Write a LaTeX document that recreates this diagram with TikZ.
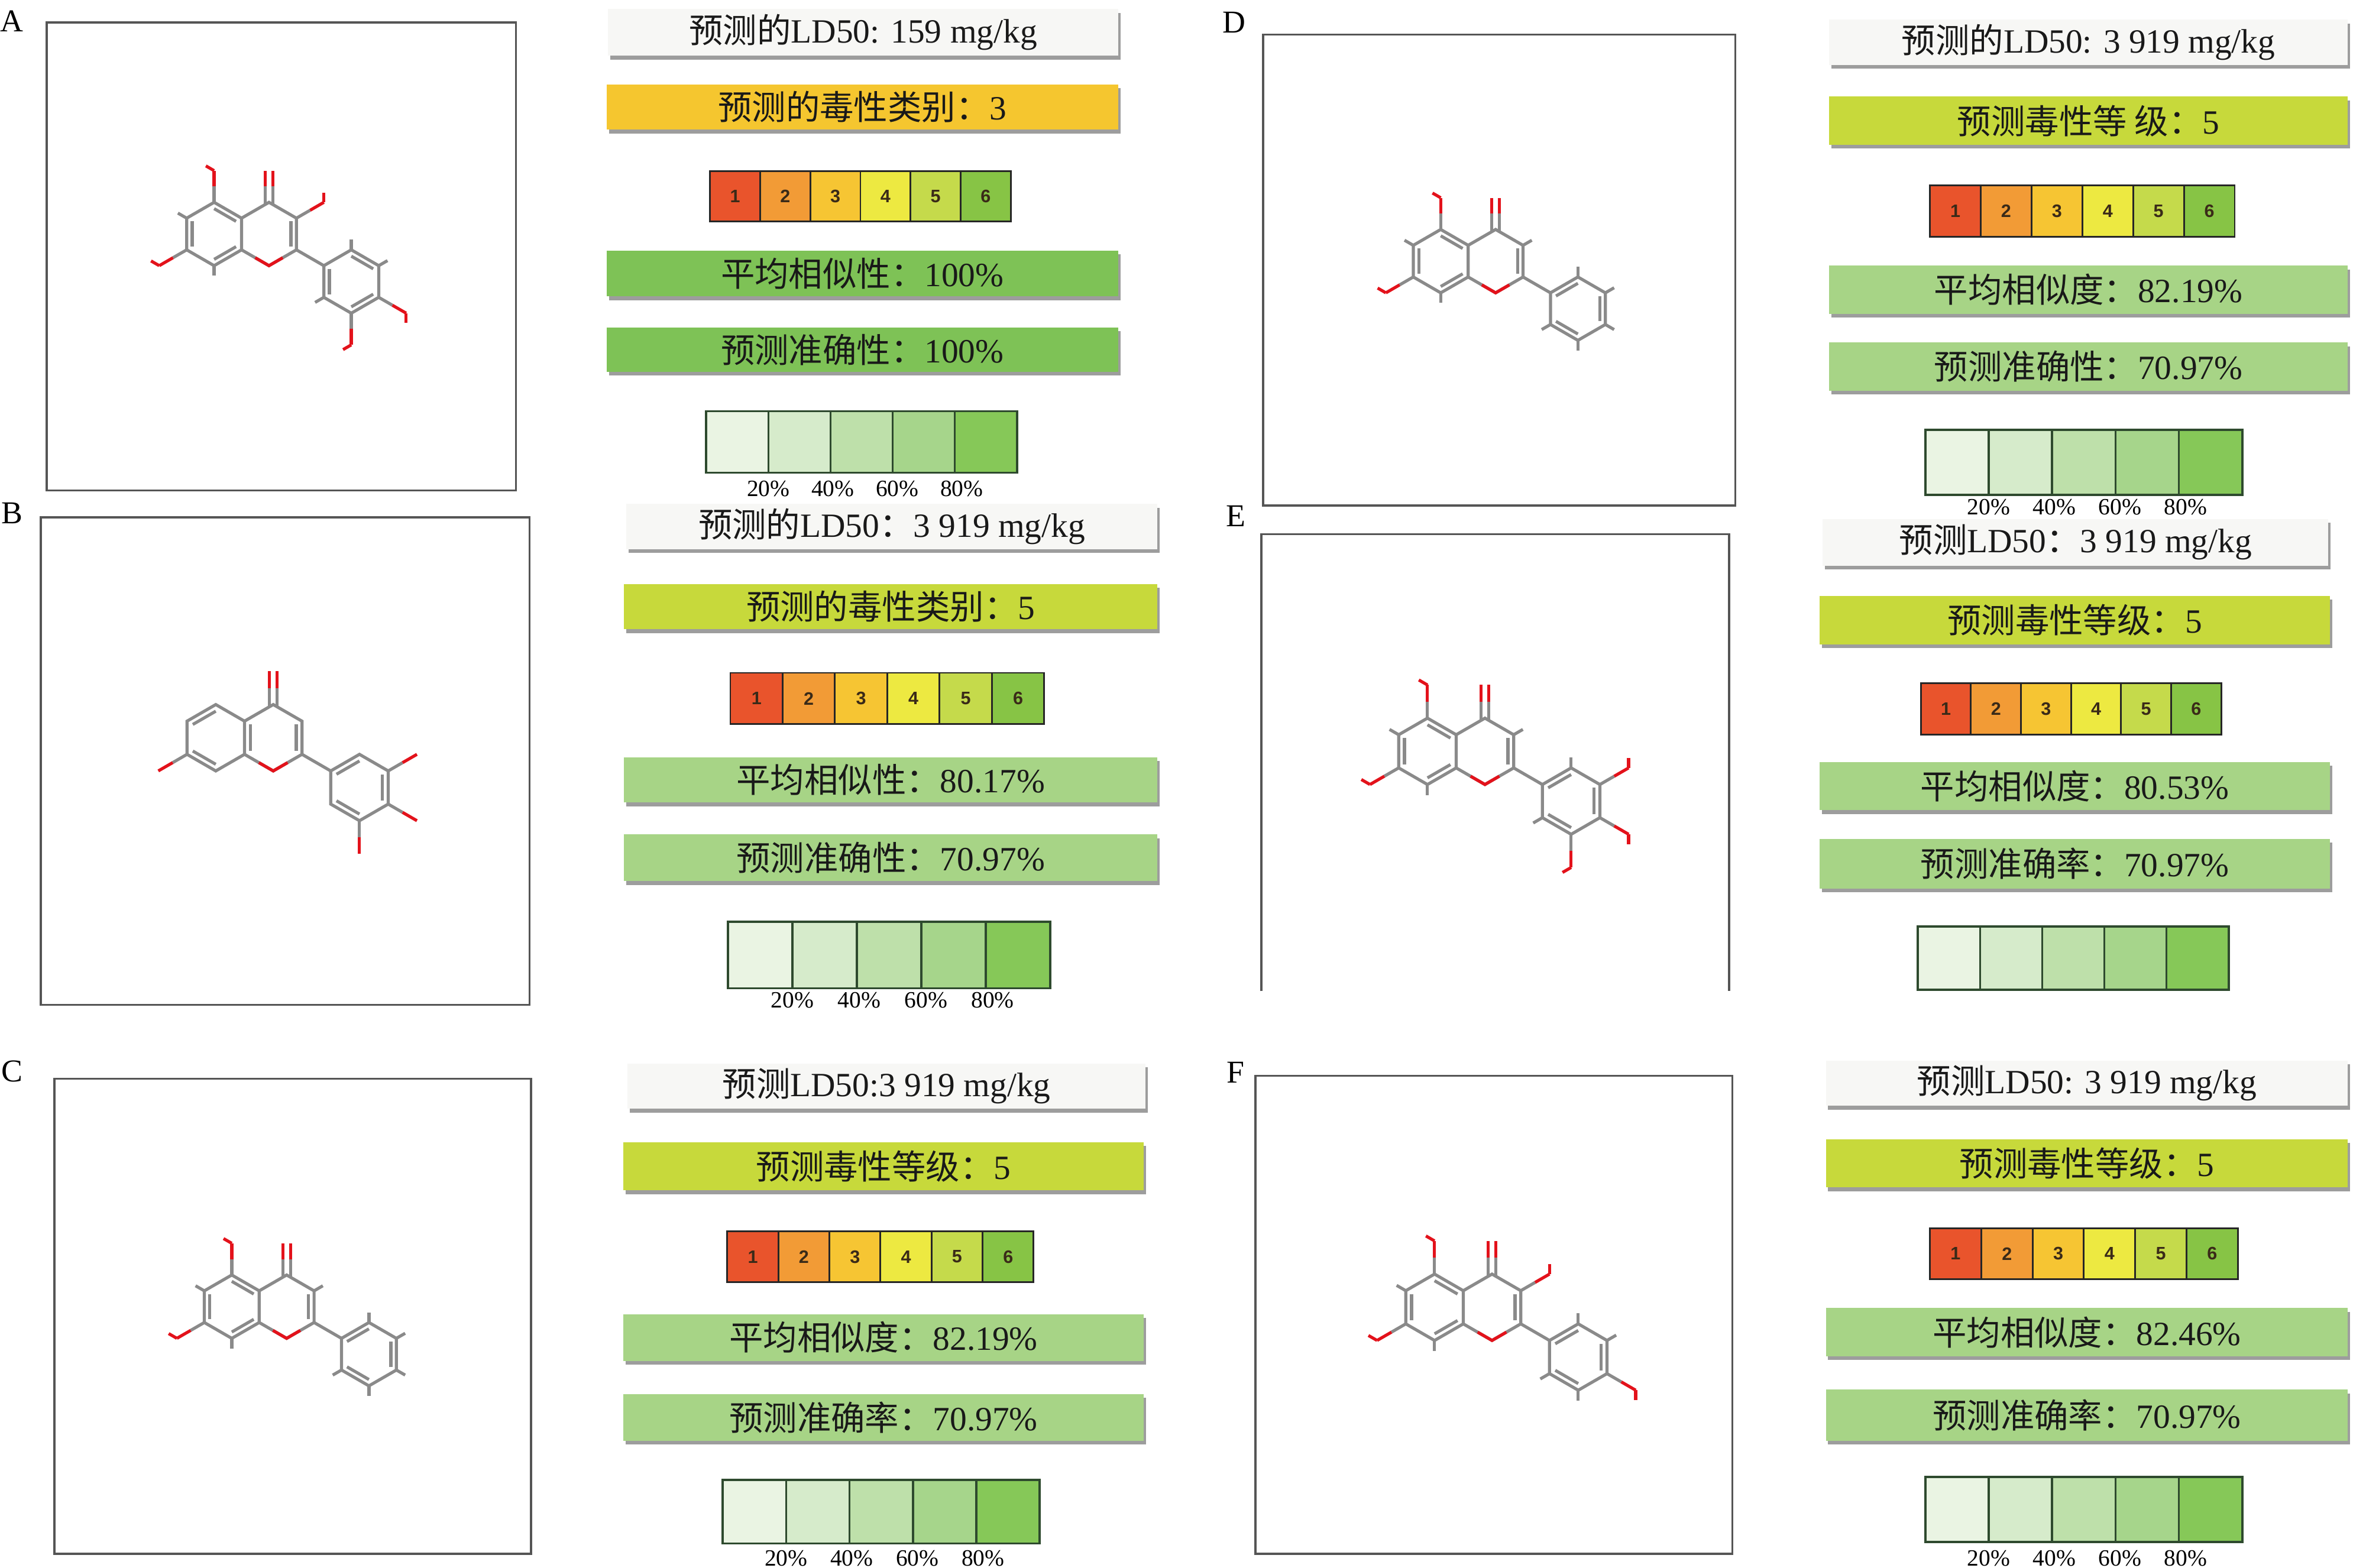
\documentclass[tikz,border=0pt]{standalone}
\usepackage{fontspec}
\setmainfont{Liberation Serif}
\setsansfont{Liberation Sans}
\newfontfamily\cjk{Noto Sans CJK SC}
\usetikzlibrary{calc,shadows}

\definecolor{bondgray}{HTML}{8A8A8A}
\definecolor{oxred}{HTML}{E3121B}
\definecolor{framegray}{HTML}{555555}
\definecolor{barwhite}{HTML}{F7F7F5}
\definecolor{cat3}{HTML}{F5C62F}
\definecolor{cat5}{HTML}{C7D93B}
\definecolor{simfull}{HTML}{7EC256}
\definecolor{simpart}{HTML}{A7D486}
\definecolor{tox1}{HTML}{E9542C}
\definecolor{tox2}{HTML}{F29B36}
\definecolor{tox3}{HTML}{F6C533}
\definecolor{tox4}{HTML}{EDE941}
\definecolor{tox5}{HTML}{C5DA4B}
\definecolor{tox6}{HTML}{87C445}
\definecolor{sim1}{HTML}{EAF4E3}
\definecolor{sim2}{HTML}{D6EBCB}
\definecolor{sim3}{HTML}{BEE0AA}
\definecolor{sim4}{HTML}{A6D58B}
\definecolor{sim5}{HTML}{86C858}
\definecolor{legendline}{HTML}{2E4A2E}
\definecolor{digitbrown}{HTML}{3A2A18}

\newcommand{\zh}[1]{{\cjk #1}}

\tikzset{
  bond/.style={draw=bondgray, line width=1.45pt},
  obond/.style={draw=oxred, line width=1.45pt},
  frame/.style={draw=framegray, line width=1pt},
  bar/.style={drop shadow={shadow xshift=1.1pt, shadow yshift=-1.8pt, fill=black!70, opacity=0.55}},
  bartext/.style={inner sep=0pt, font=\fontsize{16}{18}\selectfont, text=black!90},
  cell/.style={draw=black!85, line width=0.8pt},
  digit/.style={inner sep=0pt, font=\sffamily\bfseries\fontsize{8.5}{9}\selectfont, text=digitbrown},
  lcell/.style={draw=legendline, line width=1pt},
  pct/.style={inner sep=0pt, font=\fontsize{11}{12}\selectfont},
  panel/.style={inner sep=0pt, font=\fontsize{15}{16}\selectfont},
}

% flavone skeleton, rings A, C, B in bond-length units
\newcommand{\skeleton}{%
  \coordinate (ra) at (0,0);
  \coordinate (rc) at (1.732,0);
  \coordinate (rb) at (4.330,-1.5);
  \foreach \ang in {30,90,...,330}{%
    \coordinate (a\ang) at ({cos(\ang)},{sin(\ang)});
    \coordinate (c\ang) at ({1.732+cos(\ang)},{sin(\ang)});
    \coordinate (b\ang) at ({4.330+cos(\ang)},{-1.5+sin(\ang)});
  }%
  \draw[bond] (a30) -- (a90) -- (a150) -- (a210) -- (a270) -- (a330) -- cycle;
  \draw[bond] (a30) -- (c90) -- (c30) -- (c330) -- (c270) -- (a330);
  \draw[obond] ($(c330)!0.5!(c270)$) -- (c270) -- ($(c270)!0.5!(a330)$);
  \draw[bond] (c330) -- (b150);
  \draw[bond] (b30) -- (b90) -- (b150) -- (b210) -- (b270) -- (b330) -- cycle;
  \draw[bond] (1.612,0.93) -- (1.612,1.5) (1.852,0.93) -- (1.852,1.5);
  \draw[obond] (1.612,1.5) -- (1.612,2) (1.852,1.5) -- (1.852,2);
}
\newcommand{\dbond}[3]{\draw[bond] ($(#1)!0.2!(#3)$) -- ($(#2)!0.2!(#3)$);}
\newcommand{\hydroxyl}[2]{%
  \draw[bond] (#1#2) -- ($(r#1)!1.5!(#1#2)$);
  \draw[obond] ($(r#1)!1.5!(#1#2)$) -- ($(r#1)!2!(#1#2)$);}
\newcommand{\hydroxy}[3]{\hydroxyl{#1}{#2}\draw[obond] ($(r#1)!2!(#1#2)$) -- ++(#3:0.3);}
\newcommand{\hstub}[2]{\draw[bond] (#1#2) -- ($(r#1)!1.32!(#1#2)$);}

% text bars, scales and legends
\newcommand{\infobar}[7]{%
  \path[bar, fill=#6] (#2,#3) rectangle (#4,#5);
  \node[bartext] (#1) at ({(#2+#4)/2},{(#3+#5)/2}) {#7};}
\newcommand{\toxscale}[5]{%
  \foreach \i/\c in {1/tox1,2/tox2,3/tox3,4/tox4,5/tox5,6/tox6}{%
    \pgfmathsetmacro\xa{#2+(\i-1)*(#4-#2)/6}
    \pgfmathsetmacro\xb{#2+\i*(#4-#2)/6}
    \draw[cell, fill=\c] (\xa,#3) rectangle (\xb,#5);
    \node[digit] (#1-\i) at ({(\xa+\xb)/2},{(#3+#5)/2}) {\i};
  }}
\newcommand{\simlegend}[5]{%
  \foreach \i/\c in {1/sim1,2/sim2,3/sim3,4/sim4,5/sim5}{%
    \pgfmathsetmacro\xa{#2+(\i-1)*(#4-#2)/5}
    \pgfmathsetmacro\xb{#2+\i*(#4-#2)/5}
    \draw[lcell, fill=\c] (\xa,#3) rectangle (\xb,#5);
  }}
\newcommand{\simlabels}[4]{%
  \foreach \i/\p in {1/20,2/40,3/60,4/80}{%
    \node[pct] (#1-\p) at ({#2+\i*(#3-#2)/5+1.5*(\i-1)},#4) {\p\%};
  }}

\begin{document}
\begin{tikzpicture}[x=0.025cm, y=-0.025cm]
  \useasboundingbox (0,0) rectangle (1568,1039);

  % panel letters
  \node[panel] (labA) at (8,14) {A};
  \node[panel] (labB) at (8,340) {B};
  \node[panel] (labC) at (8,710) {C};
  \node[panel] (labD) at (818,15) {D};
  \node[panel] (labE) at (819,342) {E};
  \node[panel] (labF) at (819,711) {F};

  % structure frames
  \draw[frame] (31,15) rectangle (342,325);
  \draw[frame] (27,343) rectangle (351,666);
  \draw[frame] (36,715) rectangle (352,1030);
  \draw[frame] (837,23) rectangle (1150,335);
  \draw[frame] (836,657) -- (836,354) -- (1146,354) -- (1146,657);
  \draw[frame] (832,713) rectangle (1148,1030);

  % A
  \begin{scope}[shift={(141.9,155.1)}, scale=21, yscale=-1]
    \skeleton
    \dbond{a90}{a30}{ra} \dbond{a150}{a210}{ra} \dbond{a270}{a330}{ra}
    \dbond{c30}{c330}{rc}
    \dbond{b90}{b30}{rb} \dbond{b150}{b210}{rb} \dbond{b270}{b330}{rb}
    \hydroxy{a}{90}{150} \hydroxy{a}{210}{150} \hydroxy{c}{30}{90}
    \hydroxy{b}{330}{270} \hydroxy{b}{270}{210}
    \hstub{a}{150} \hstub{a}{270} \hstub{b}{90} \hstub{b}{30} \hstub{b}{210}
  \end{scope}
  \infobar{ldA}{403}{6}{741}{37}{barwhite}{\zh{预测的}LD50: 159 mg/kg}
  \infobar{catA}{402}{56}{741}{86}{cat3}{\zh{预测的毒性类别：}3}
  \toxscale{toxA}{470.6}{113.6}{669.8}{146.6}
  \infobar{simA}{402}{166}{741}{196.5}{simfull}{\zh{平均相似性：}100\%}
  \infobar{accA}{402}{217}{741}{246.5}{simfull}{\zh{预测准确性：}100\%}
  \simlegend{legA}{468}{272.5}{674}{313.3}
  \simlabels{pctA}{468}{674}{324}

  % B
  \begin{scope}[shift={(143,489)}, scale=22, yscale=-1]
    \skeleton
    \dbond{a150}{a90}{ra} \dbond{a210}{a270}{ra} \dbond{a30}{a330}{rc}
    \dbond{c30}{c330}{rc}
    \dbond{b150}{b90}{rb} \dbond{b30}{b330}{rb} \dbond{b210}{b270}{rb}
    \hydroxyl{a}{210} \hydroxyl{b}{30} \hydroxyl{b}{330} \hydroxyl{b}{270}
  \end{scope}
  \infobar{ldB}{415}{334}{767}{364}{barwhite}{\zh{预测的}LD50\zh{：}3 919 mg/kg}
  \infobar{catB}{413.5}{387}{767}{417}{cat5}{\zh{预测的毒性类别：}5}
  \toxscale{toxB}{484}{446}{692}{480}
  \infobar{simB}{413.5}{502}{767}{532}{simpart}{\zh{平均相似性：}80.17\%}
  \infobar{accB}{413.5}{553}{767}{584}{simpart}{\zh{预测准确性：}70.97\%}
  \simlegend{legB}{482.5}{611}{696}{655}
  \simlabels{pctB}{482.5}{696}{663}

  % C
  \begin{scope}[shift={(153.6,866.1)}, scale=21, yscale=-1]
    \skeleton
    \dbond{a90}{a30}{ra} \dbond{a150}{a210}{ra} \dbond{a270}{a330}{ra}
    \dbond{c30}{c330}{rc}
    \dbond{b150}{b90}{rb} \dbond{b30}{b330}{rb} \dbond{b210}{b270}{rb}
    \hydroxy{a}{90}{150} \hydroxy{a}{210}{150}
    \hstub{a}{150} \hstub{a}{270} \hstub{c}{30}
    \hstub{b}{90} \hstub{b}{30} \hstub{b}{330} \hstub{b}{270} \hstub{b}{210}
  \end{scope}
  \infobar{ldC}{416}{705}{759}{735}{barwhite}{\zh{预测}LD50:3 919 mg/kg}
  \infobar{catC}{413}{757}{758}{789}{cat5}{\zh{预测毒性等级：}5}
  \toxscale{toxC}{482}{816}{685}{850}
  \infobar{simC}{413}{871}{758}{902}{simpart}{\zh{平均相似度：}82.19\%}
  \infobar{accC}{413}{924}{758}{955}{simpart}{\zh{预测准确率：}70.97\%}
  \simlegend{legC}{479}{981}{689}{1023}
  \simlabels{pctC}{479}{689}{1033}

  % D
  \begin{scope}[shift={(954.8,173.1)}, scale=21, yscale=-1]
    \skeleton
    \dbond{a90}{a30}{ra} \dbond{a150}{a210}{ra} \dbond{a270}{a330}{ra}
    \dbond{c30}{c330}{rc}
    \dbond{b150}{b90}{rb} \dbond{b30}{b330}{rb} \dbond{b210}{b270}{rb}
    \hydroxy{a}{90}{150} \hydroxy{a}{210}{150}
    \hstub{a}{150} \hstub{a}{270} \hstub{c}{30}
    \hstub{b}{90} \hstub{b}{30} \hstub{b}{330} \hstub{b}{270} \hstub{b}{210}
  \end{scope}
  \infobar{ldD}{1212}{13}{1556}{43}{barwhite}{\zh{预测的}LD50: 3 919 mg/kg}
  \infobar{catD}{1212}{64}{1556}{96}{cat5}{\zh{预测毒性等 级：}5}
  \toxscale{toxD}{1279}{123}{1481}{157}
  \infobar{simD}{1212}{176}{1556}{208}{simpart}{\zh{平均相似度：}82.19\%}
  \infobar{accD}{1212}{227}{1556}{259}{simpart}{\zh{预测准确性：}70.97\%}
  \simlegend{legD}{1276}{285}{1486}{328}
  \simlabels{pctD}{1276}{1486}{336}

  % E
  \begin{scope}[shift={(946,498)}, scale=22, yscale=-1]
    \skeleton
    \dbond{a90}{a30}{ra} \dbond{a150}{a210}{ra} \dbond{a270}{a330}{ra}
    \dbond{c30}{c330}{rc}
    \dbond{b150}{b90}{rb} \dbond{b30}{b330}{rb} \dbond{b210}{b270}{rb}
    \hydroxy{a}{90}{150} \hydroxy{a}{210}{150}
    \hydroxy{b}{30}{90} \hydroxy{b}{330}{270} \hydroxy{b}{270}{210}
    \hstub{a}{150} \hstub{a}{270} \hstub{c}{30} \hstub{b}{90} \hstub{b}{210}
  \end{scope}
  \infobar{ldE}{1208}{344}{1543}{375}{barwhite}{\zh{预测}LD50\zh{：}3 919 mg/kg}
  \infobar{catE}{1206}{395}{1544}{427}{cat5}{\zh{预测毒性等级：}5}
  \toxscale{toxE}{1273}{453}{1472}{487}
  \infobar{simE}{1206}{505}{1544}{537}{simpart}{\zh{平均相似度：}80.53\%}
  \infobar{accE}{1206}{556}{1544}{589}{simpart}{\zh{预测准确率：}70.97\%}
  \simlegend{legE}{1271}{614}{1477}{656}

  % F
  \begin{scope}[shift={(950.7,866.5)}, scale=22, yscale=-1]
    \skeleton
    \dbond{a90}{a30}{ra} \dbond{a150}{a210}{ra} \dbond{a270}{a330}{ra}
    \dbond{c30}{c330}{rc}
    \dbond{b150}{b90}{rb} \dbond{b30}{b330}{rb} \dbond{b210}{b270}{rb}
    \hydroxy{a}{90}{150} \hydroxy{a}{210}{150} \hydroxy{c}{30}{90}
    \hydroxy{b}{330}{270}
    \hstub{a}{150} \hstub{a}{270}
    \hstub{b}{90} \hstub{b}{30} \hstub{b}{270} \hstub{b}{210}
  \end{scope}
  \infobar{ldF}{1210}{703}{1556}{733}{barwhite}{\zh{预测}LD50: 3 919 mg/kg}
  \infobar{catF}{1210}{755}{1556}{787}{cat5}{\zh{预测毒性等级：}5}
  \toxscale{toxF}{1279}{814}{1483}{848}
  \infobar{simF}{1210}{867}{1556}{899}{simpart}{\zh{平均相似度：}82.46\%}
  \infobar{accF}{1210}{921}{1556}{955}{simpart}{\zh{预测准确率：}70.97\%}
  \simlegend{legF}{1276}{979}{1486}{1022}
  \simlabels{pctF}{1276}{1486}{1033}
\end{tikzpicture}
\end{document}
